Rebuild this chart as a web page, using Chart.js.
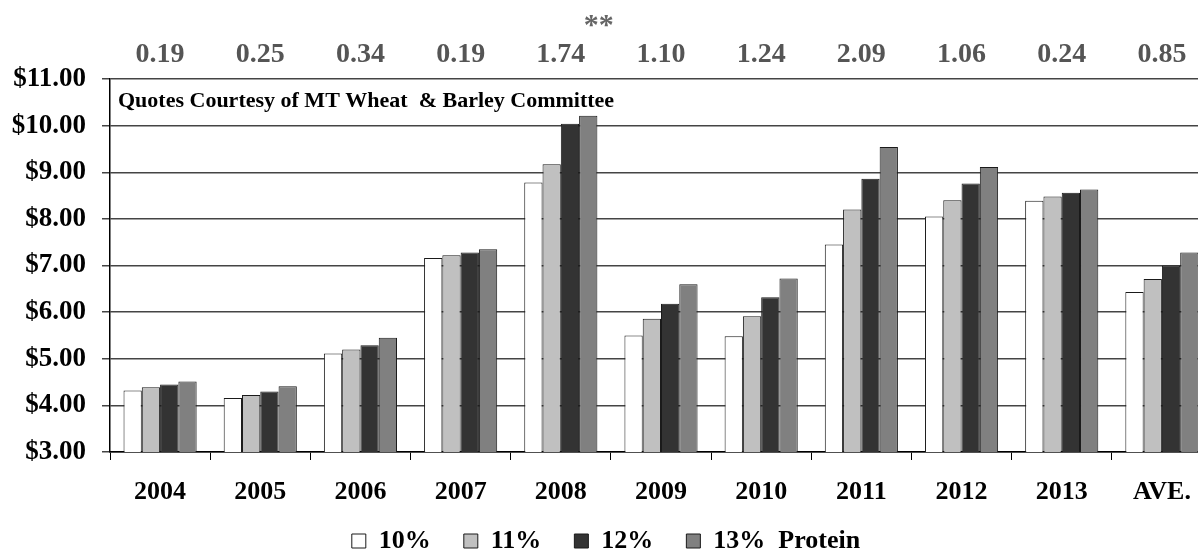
<!DOCTYPE html>
<html>
<head>
<meta charset="utf-8">
<title>Wheat price by protein</title>
<script src="https://cdn.jsdelivr.net/npm/chart.js@4.4.1/dist/chart.umd.min.js"></script>
<style>
    html, body { margin: 0; padding: 0; background: #fff; overflow: hidden; }
    body { width: 1198px; height: 552px; }
    #wrap { position: relative; width: 1212px; height: 564px; }
</style>
</head>
<body>
<div id="wrap"><canvas id="priceChart"></canvas></div>
<script>
/* price chart — quotes by protein level, 2004-2013 + average */

const categories   = ['2004', '2005', '2006', '2007', '2008', '2009', '2010', '2011', '2012', '2013', 'AVE.'];
const protein10    = [4.32, 4.16, 5.11, 7.16, 8.78, 5.50, 5.48, 7.45, 8.05, 8.39, 6.43];
const protein11    = [4.39, 4.22, 5.20, 7.22, 9.17, 5.86, 5.91, 8.20, 8.40, 8.48, 6.71];
const protein12    = [4.45, 4.30, 5.29, 7.28, 10.04, 6.18, 6.32, 8.86, 8.76, 8.56, 7.00];
const protein13    = [4.51, 4.41, 5.45, 7.35, 10.21, 6.60, 6.72, 9.54, 9.11, 8.63, 7.28];
const spreadLabels = ['0.19', '0.25', '0.34', '0.19', '1.74', '1.10', '1.24', '2.09', '1.06', '0.24', '0.85'];
const seriesNames  = ['10%', '11%', '12%', '13%  Protein'];
const yMin = 3, yMax = 11, yStep = 1;

const SERIF = '"Liberation Serif", "Times New Roman", serif';

// ── extra text: source note + the ** marker over 2008 ────────────────────
const notesPlugin = {
    id: 'notes',
    afterDraw(chart) {
        const { ctx, chartArea, scales } = chart;
        ctx.save();
        ctx.fillStyle = '#000';
        ctx.font = 'bold 22px ' + SERIF;
        ctx.textAlign = 'left';
        ctx.textBaseline = 'middle';
        ctx.fillText('Quotes Courtesy of MT Wheat  & Barley Committee', chartArea.left + 8, chartArea.top + 22);

        ctx.fillStyle = '#666';
        ctx.font = 'bold 30px ' + SERIF;
        ctx.textAlign = 'center';
        ctx.fillText('**', scales.x.getPixelForValue(4) + 38, 26);
        ctx.restore();
    }
};

const barStyle = (color) => ({
    backgroundColor: color,
    borderColor: '#1a1a1a',
    borderWidth: 1,
    categoryPercentage: 0.73,
    barPercentage: 1.0
});

const ctx = document.getElementById('priceChart').getContext('2d');
const chart = new Chart(ctx, {
    type: 'bar',
    data: {
        labels: categories,
        datasets: [
            { label: seriesNames[0], data: protein10, ...barStyle('#ffffff') },
            { label: seriesNames[1], data: protein11, ...barStyle('#c0c0c0') },
            { label: seriesNames[2], data: protein12, ...barStyle('#333333') },
            { label: seriesNames[3], data: protein13, ...barStyle('#808080') }
        ]
    },
    options: {
        responsive: true,
        maintainAspectRatio: false,
        animation: false,
        layout: { padding: 0 },
        plugins: {
            legend: {
                position: 'bottom',
                labels: {
                    color: '#000',
                    font: { family: SERIF, size: 26, weight: 'bold' },
                    boxWidth: 14,
                    boxHeight: 14,
                    padding: 20,
                    // widen the gap between items without making the legend taller
                    generateLabels(chart) {
                        const items = Chart.defaults.plugins.legend.labels.generateLabels(chart);
                        items.forEach((it, i) => { if (i < items.length - 1) it.text += '\u2002'; });
                        return items;
                    }
                }
            },
            tooltip: { enabled: false }
        },
        scales: {
            x: {
                position: 'bottom',
                offset: true,
                grid: { display: true, drawOnChartArea: false, drawTicks: true, tickLength: 8, color: '#000', offset: true },
                border: { display: true, color: '#000', width: 1.5 },
                ticks: { color: '#000', font: { family: SERIF, size: 26, weight: 'bold' }, padding: 17, maxRotation: 0, autoSkip: false },
                afterFit(scale) { scale.height = 56; }
            },
            x2: {
                type: 'category',
                labels: spreadLabels,
                position: 'top',
                offset: true,
                grid: { display: false, drawTicks: false },
                border: { display: false },
                ticks: { color: '#555', font: { family: SERIF, size: 28, weight: 'bold' }, padding: 7, maxRotation: 0, autoSkip: false },
                afterFit(scale) { scale.height = 79; }
            },
            y: {
                min: yMin,
                max: yMax,
                grid: { color: '#444', lineWidth: 1.5, drawTicks: true, tickLength: 8 },
                border: { display: true, color: '#000', width: 1.5 },
                ticks: {
                    stepSize: yStep,
                    color: '#000',
                    font: { family: SERIF, size: 27, weight: 'bold' },
                    padding: 16,
                    callback: v => '$' + Number(v).toFixed(2)
                },
                afterFit(scale) { scale.width = 110; }
            }
        }
    },
    plugins: [notesPlugin]
});
</script>
</body>
</html>
